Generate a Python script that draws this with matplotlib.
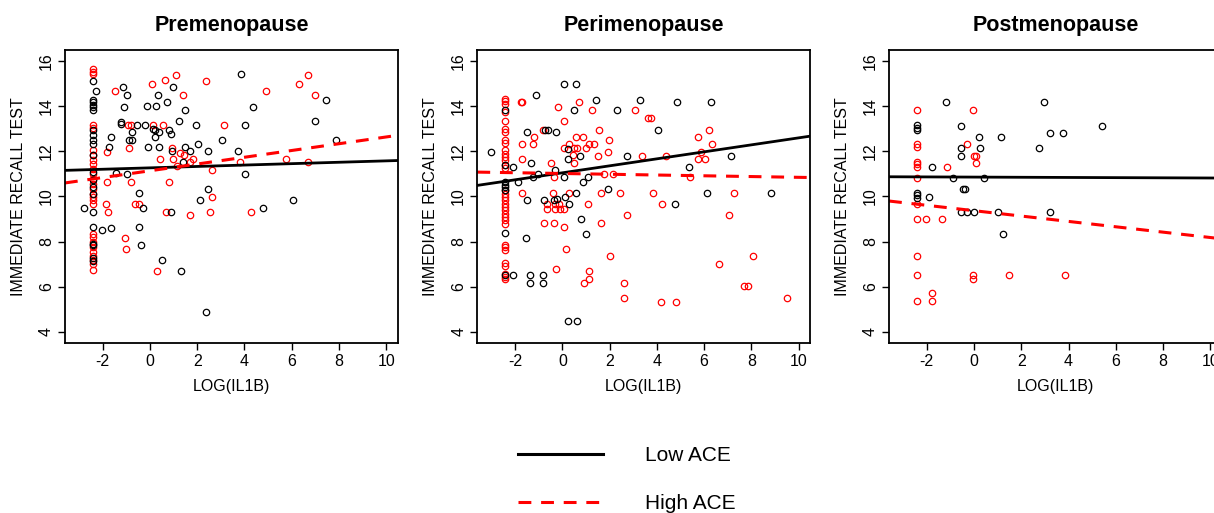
import matplotlib
matplotlib.use("Agg")
import matplotlib.pyplot as plt
from matplotlib.lines import Line2D

plt.rcParams['font.family'] = ['Liberation Sans', 'DejaVu Sans']
plt.rcParams['axes.unicode_minus'] = False

# ---- data ----
panel_titles = ["Premenopause", "Perimenopause", "Postmenopause"]
x_ticks = [-2, 0, 2, 4, 6, 8, 10]
y_ticks = [4, 6, 8, 10, 12, 14, 16]

# Premenopause, low ACE (black)
pre_low_x = [-2.42] * 21 + [
    -2.81, -2.28, -2.04, -1.63, -1.63, -1.75, -1.43, -1.22, -1.22, -1.15, -1.11, -0.99,
    -0.99, -0.90, -0.75, -0.75, -0.53, -0.47, -0.47, -0.40, -0.30, -0.19, -0.12, -0.07,
    0.14, 0.20, 0.22, 0.38, 0.27, 0.35, 0.39, 0.51, 0.73, 0.80, 0.90, 0.89, 0.95, 0.97,
    1.22, 1.33, 1.40, 1.50, 1.50, 1.68, 1.97, 2.05, 2.11, 2.39, 2.46, 2.46, 3.03, 3.71,
    3.84, 4.02, 4.02, 4.37, 4.80, 6.05, 6.99, 7.46, 7.87]
pre_low_y = [
    15.14, 14.29, 14.17, 14.07, 13.96, 13.82, 12.93, 12.71, 12.49, 12.31, 11.82, 11.08,
    10.72, 10.42, 10.13, 9.31, 8.65, 7.91, 7.84, 7.25, 7.14,
    9.49, 14.66, 8.50, 8.62, 12.63, 12.19, 11.04, 13.30, 13.20, 14.85, 13.99, 14.48,
    11.01, 12.49, 12.49, 12.86, 13.15, 10.16, 8.65, 7.84, 9.49, 13.15, 14.00, 12.19,
    13.00, 12.63, 12.93, 12.86, 14.00, 14.48, 12.19, 7.17, 14.18, 12.93, 12.78, 9.31, 12.00, 14.85,
    13.33, 6.70, 11.53, 13.82, 12.19, 12.00, 13.15, 12.34, 9.86, 4.88, 10.35, 12.00, 12.49, 12.00,
    15.44, 13.15, 11.01, 13.99, 9.49, 9.86, 13.33, 14.29, 12.49]

# Premenopause, high ACE (red)
pre_high_x = [-2.42] * 27 + [
    -1.82, -1.86, -1.76, -1.83, -1.48, -1.04, -1.01, -0.91, -0.82, -0.87, -0.81, -0.65,
    -0.47, 0.08, 0.12, 0.29, 0.41, 0.62, 0.55, 0.66, 0.80, 0.93, 0.97, 1.09, 1.16, 1.26,
    1.40, 1.43, 1.68, 1.81, 1.68, 2.39, 2.62, 2.56, 2.63, 3.14, 3.81, 4.26, 4.90, 5.76,
    6.29, 6.71, 6.71, 6.99]
pre_high_y = [
    15.66, 15.51, 15.44, 13.15, 13.05, 12.04, 11.82, 11.60, 11.42, 11.23, 11.01, 10.79,
    10.54, 10.32, 10.13, 9.98, 9.83, 9.65, 8.35, 8.20, 7.98, 7.76, 7.54, 7.35, 7.17, 7.00, 6.73,
    11.97, 9.68, 9.31, 10.64, 14.66, 8.16, 7.65, 13.15, 13.15, 12.16, 10.64, 9.68,
    9.68, 14.97, 13.15, 6.70, 11.68, 15.17, 13.15, 9.31, 10.64, 12.16, 11.68, 15.37, 11.34, 11.93,
    14.48, 11.82, 9.17, 11.68, 11.53, 15.14, 11.16, 9.31, 9.98, 13.15, 11.53, 9.31, 14.67, 11.68,
    14.97, 15.37, 11.53, 14.48]

# Perimenopause, low ACE (black)
peri_low_x = [-2.42] * 8 + [
    -3.01, -2.11, -2.11, -1.87, -1.55, -1.48, -1.48, -1.36, -1.36, -1.31, -1.26, -1.12,
    -1.05, -0.80, -0.80, -0.77, -0.74, -0.60, -0.37, -0.31, -0.27, -0.23, 0.08, 0.08,
    0.12, 0.22, 0.25, 0.29, 0.22, 0.51, 0.56, 0.62, 0.58, 0.75, 0.80, 0.89, 1.02, 1.10,
    1.44, 1.92, 2.32, 2.73, 3.30, 4.05, 4.76, 4.87, 5.35, 6.14, 6.29, 7.16, 8.84]
peri_low_y = [
    13.82, 11.40, 10.64, 10.50, 10.40, 10.30, 8.36, 6.51,
    11.97, 11.31, 6.51, 10.64, 8.16, 9.86, 12.86, 6.51, 6.14, 11.48, 10.86, 14.48,
    11.01, 6.51, 6.14, 9.86, 12.96, 12.96, 9.83, 11.16, 12.86, 9.90, 10.86, 14.97,
    9.98, 12.12, 4.49, 9.68, 11.68, 13.82, 14.97, 4.49, 10.16, 11.78, 8.99, 10.64, 8.33, 10.86,
    14.29, 10.35, 13.82, 11.78, 14.29, 12.96, 9.68, 14.17, 11.31, 10.16, 14.17, 11.78, 10.16]

# Perimenopause, high ACE (red)
peri_high_x = [-2.42] * 34 + [
    -1.76, -1.69, -1.73, -1.73, -1.73, -1.22, -1.24, -0.80, -0.77, -0.63, -0.63, -0.48,
    -0.41, -0.37, -0.34, -0.31, -0.31, -0.27, -0.20, -0.13, -0.09, 0.05, 0.05, 0.05,
    0.08, 0.15, 0.27, 0.29, 0.44, 0.51, 0.51, 0.58, 0.62, 0.72, 0.86, 0.93, 1.00, 1.07,
    1.14, 1.14, 1.14, 1.26, 1.33, 1.50, 1.57, 1.64, 1.64, 1.78, 1.95, 1.99, 2.02, 2.14,
    2.42, 2.60, 2.60, 2.73, 3.06, 3.37, 3.62, 3.74, 3.84, 4.19, 4.23, 4.40, 4.83, 5.39,
    5.75, 5.75, 5.89, 6.06, 6.20, 6.34, 6.63, 7.05, 7.26, 7.70, 7.84, 8.08, 9.50]
peri_high_y = [
    14.33, 14.23, 14.11, 13.74, 13.34, 13.00, 12.86, 12.49, 12.37, 12.05, 11.90, 11.75,
    11.60, 11.38, 11.28, 10.27, 10.13, 9.98, 9.83, 9.68, 9.54, 9.39, 9.24, 9.09, 8.95,
    8.80, 7.84, 7.74, 7.62, 7.03, 6.91, 6.58, 6.43, 6.32,
    14.17, 14.17, 12.34, 11.68, 10.16, 12.63, 12.34, 12.96, 8.83, 9.68, 9.46, 11.48,
    10.16, 8.83, 10.86, 9.68, 9.46, 6.80, 13.99, 9.68, 9.46, 9.46, 13.33, 12.16,
    8.65, 7.66, 12.34, 10.16, 11.82, 11.48, 12.16, 12.63, 12.16, 14.17, 12.63, 6.14, 12.16, 9.68,
    12.34, 6.70, 6.32, 13.82, 12.34, 11.78, 12.96, 10.16, 8.83, 11.01, 11.97, 12.49, 7.35, 11.01,
    10.16, 6.14, 5.48, 9.17, 13.82, 11.78, 13.49, 13.49, 10.16, 5.33, 9.68, 11.78, 5.33, 10.86,
    12.63, 11.68, 11.97, 11.68, 12.96, 12.34, 7.00, 9.17, 10.16, 6.02, 6.02, 7.35, 5.48]

# Postmenopause, low ACE (black)
post_low_x = [-2.42] * 6 + [
    -1.90, -1.79, -1.19, -0.90, -0.56, -0.56, -0.56, -0.56, -0.48, -0.39, -0.31, -0.02,
    0.22, 0.27, 0.44, 1.03, 1.14, 1.22, 2.77, 2.96, 3.20, 3.20, 3.76, 5.42]
post_low_y = [
    13.15, 13.05, 12.93, 10.16, 10.05, 9.95,
    9.98, 11.31, 14.17, 10.83, 13.12, 12.16, 11.78, 9.31, 10.35, 10.35, 9.31, 9.31,
    12.63, 12.16, 10.83, 9.31, 12.63, 8.33, 12.16, 14.17, 9.31, 12.83, 12.83, 13.12]

# Postmenopause, high ACE (red)
post_high_x = [-2.42] * 12 + [
    -2.04, -1.76, -1.76, -1.36, -1.15, -0.31, -0.03, -0.06, -0.06, 0.01, 0.08, 0.08,
    1.46, 3.84]
post_high_y = [
    13.82, 12.34, 12.19, 11.53, 11.42, 11.31, 10.83, 9.65, 8.99, 7.35, 6.51, 5.36,
    8.99, 5.70, 5.36, 8.99, 11.31, 12.34, 13.82, 6.51, 6.32, 11.78, 11.78, 11.48,
    6.51, 6.51]

# fitted lines (intercept, slope)
low_fit = [(11.27, 0.031), (11.05, 0.155), (10.86, -0.004)]
high_fit = [(11.14, 0.15), (11.02, -0.017), (9.37, -0.119)]

low_pts = [(pre_low_x, pre_low_y), (peri_low_x, peri_low_y), (post_low_x, post_low_y)]
high_pts = [(pre_high_x, pre_high_y), (peri_high_x, peri_high_y), (post_high_x, post_high_y)]

# ---- figure ----
fig = plt.figure(figsize=(12.14, 5.13), dpi=100)
lefts = [0.0535, 0.3932, 0.7323]
xlim = (-3.6, 10.5)
dash = (0, (4.2, 3.2))

for i in range(3):
    ax = fig.add_axes([lefts[i], 0.3314, 0.2743, 0.5712])
    hx, hy = high_pts[i]
    lx, ly = low_pts[i]
    ax.plot(hx, hy, 'o', mfc='none', mec='red', ms=4.6, mew=0.9, clip_on=False)
    ax.plot(lx, ly, 'o', mfc='none', mec='black', ms=4.6, mew=0.9, clip_on=False)
    b0, b1 = low_fit[i]
    ax.plot(xlim, [b0 + b1 * xlim[0], b0 + b1 * xlim[1]], color='black', lw=2.0)
    b0, b1 = high_fit[i]
    ax.plot(xlim, [b0 + b1 * xlim[0], b0 + b1 * xlim[1]], color='red', lw=2.2, linestyle=dash)

    ax.set_xlim(xlim)
    ax.set_ylim(3.5, 16.5)
    ax.set_xticks(x_ticks)
    ax.set_yticks(y_ticks)
    ax.tick_params(direction='out', length=5, width=1, labelsize=11.5, pad=3)
    for lab in ax.get_yticklabels():
        lab.set_rotation(90)
        lab.set_va('center')
    for s in ax.spines.values():
        s.set_linewidth(1.3)

    ax.set_xlabel("LOG(IL1B)", fontsize=11.5)
    ax.xaxis.label.set_va('center')
    ax.xaxis.set_label_coords(0.5, -0.150)
    ax.set_ylabel("IMMEDIATE RECALL TEST", fontsize=11.5)
    ax.yaxis.label.set_va('center')
    ax.yaxis.set_label_coords(-0.14, 0.5)

    ax.text(0.5, 1.085, panel_titles[i], transform=ax.transAxes, ha='center', va='center',
            fontsize=15.5, fontweight='bold')

handles = [Line2D([], [], color='black', lw=2.2),
           Line2D([], [], color='red', lw=2.2, linestyle=dash)]
fig.legend(handles, ["Low ACE", "High ACE"], loc='upper left', bbox_to_anchor=(0.4267, 0.131),
           frameon=False, fontsize=15, handlelength=4.1, handletextpad=2.0,
           labelspacing=1.4, borderpad=0, borderaxespad=0)

fig.savefig("out.png", dpi=100)
